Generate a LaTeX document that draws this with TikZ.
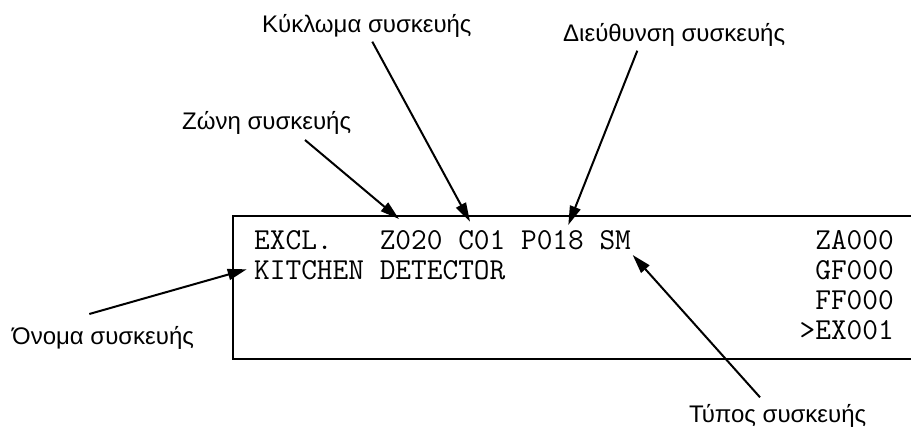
\documentclass[tikz,border=0pt]{standalone}
\usepackage{fontspec}
\setmainfont{Liberation Sans}
\usetikzlibrary{arrows.meta}
\begin{document}
\begin{tikzpicture}[x=1pt,y=-1pt,
  lbl/.style={font=\fontsize{24}{28}\selectfont, inner sep=0pt, anchor=base west},
  disp/.style={font=\ttfamily\fontsize{30.48}{32}\selectfont, inner sep=0pt},
  arr/.style={line width=2pt, -{Triangle[length=19pt,width=11pt]}}]
\useasboundingbox (0,0) rectangle (911,430);
% display frame (right side runs off the picture)
\draw[line width=1.6pt] (920,216) -- (233,216) -- (233,359) -- (920,359);
% display text
\node[disp, anchor=base west] (l1) at (254,250) {EXCL.\ \ \ Z020 C01 P018 SM};
\node[disp, anchor=base west] (l2) at (254,280) {KITCHEN DETECTOR};
\node[disp, anchor=base east] (r1) at (894,250) {ZA000};
\node[disp, anchor=base east] (r2) at (894,280) {GF000};
\node[disp, anchor=base east] (r3) at (894,310) {FF000};
\node[disp, anchor=base east] (r4) at (894,340) {>EX001};
% labels
\node[lbl] (kyk) at (262,33) {Κύκλωμα συσκευής};
\node[lbl] (dieu) at (563,41.7) {Διεύθυνση συσκευής};
\node[lbl] (zon) at (182,129.3) {Ζώνη συσκευής};
\node[lbl] (onom) at (12,345) {Όνομα συσκευής};
\node[lbl] (typ) at (689,423) {Τύπος συσκευής};
% arrow end points
\coordinate (zonS) at (305,140);
\coordinate (zonT) at (399,219);
\coordinate (kykS) at (372.3,41.7);
\coordinate (kykT) at (470,221.7);
\coordinate (dieuS) at (637.3,50.7);
\coordinate (dieuT) at (568.3,225);
\coordinate (onomS) at (89.3,314);
\coordinate (onomT) at (246.7,269.3);
\coordinate (typS) at (760,397.3);
\coordinate (typT) at (632.7,255);
\draw[arr] (zonS) -- (zonT);
\draw[arr] (kykS) -- (kykT);
\draw[arr] (dieuS) -- (dieuT);
\draw[arr] (onomS) -- (onomT);
\draw[arr] (typS) -- (typT);
\end{tikzpicture}
\end{document}
